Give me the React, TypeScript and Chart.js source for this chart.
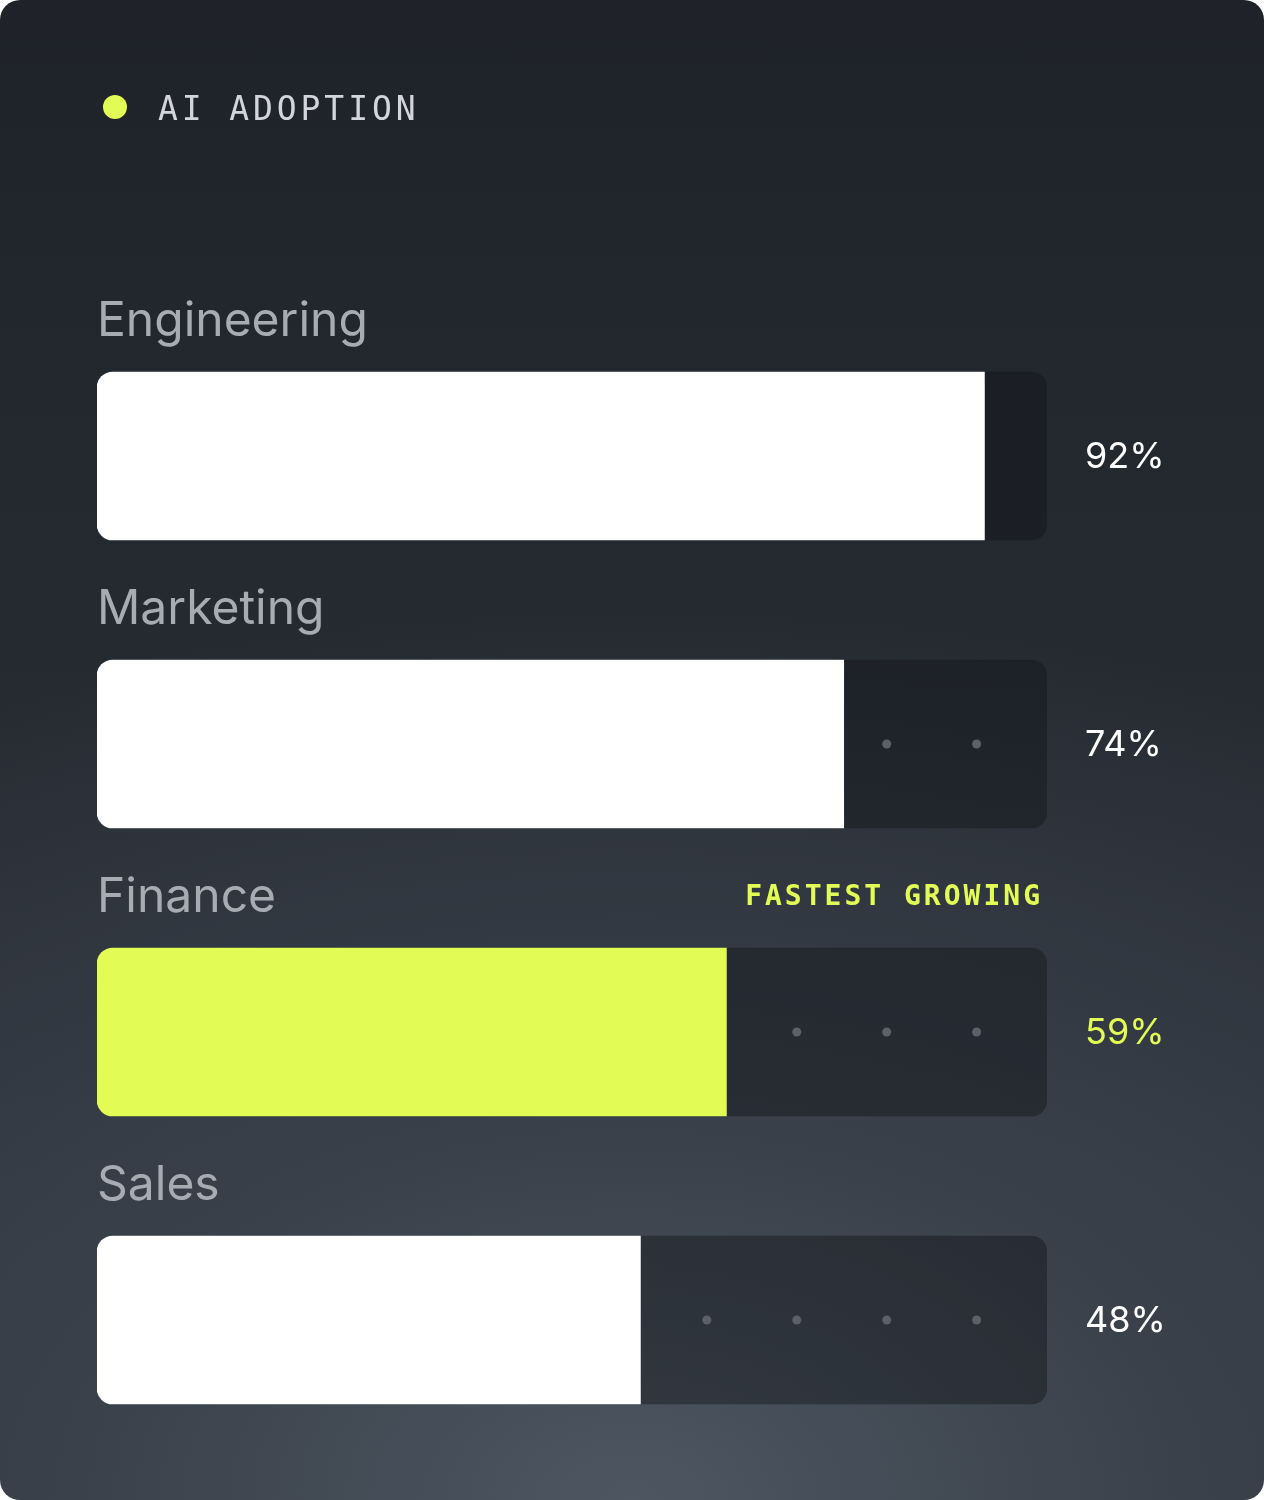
import React, { FC, useEffect, useRef } from "react";
import Chart from "chart.js/auto";

// chart data
const categories = ["Engineering", "Marketing", "Finance", "Sales"];
const adoption = [92, 74, 59, 48];
const highlightCategory = "Finance";
const highlightNote = "FASTEST GROWING";
const dotMarks = [56.5, 68, 79.5, 91]; // faint guide dots inside the empty track
const AXIS_MIN = -21.5;
const AXIS_MAX = 100;

const LIME = "#e2fc55";
const WHITE = "#ffffff";

const App: FC = () => {
  const canvasRef = useRef<HTMLCanvasElement>(null);

  useEffect(() => {
    if (!canvasRef.current) return;
    const ctx = canvasRef.current.getContext("2d");
    if (!ctx) return;

    const textPlugin = {
      id: "textPlugin",
      afterDatasetsDraw(chart: any) {
        const c = chart.ctx;
        const area = chart.chartArea;
        const meta = chart.getDatasetMeta(1);
        c.save();

        // header
        c.fillStyle = LIME;
        c.beginPath();
        c.arc(115, 107, 12, 0, Math.PI * 2);
        c.fill();
        c.fillStyle = "#d2d5da";
        c.font = "33px 'DejaVu Sans Mono', monospace";
        c.textBaseline = "alphabetic";
        c.textAlign = "left";
        (c as any).letterSpacing = "3.9px";
        c.fillText("AI ADOPTION", 158, 120);
        (c as any).letterSpacing = "0px";

        meta.data.forEach((bar: any, i: number) => {
          const top = bar.y - bar.height / 2;
          const isHi = categories[i] === highlightCategory;

          c.textAlign = "left";
          c.textBaseline = "alphabetic";
          c.fillStyle = "#a7abb2";
          c.font = "48px Inter, 'Noto Sans', sans-serif";
          c.fillText(categories[i], area.left, top - 36);

          if (isHi) {
            c.textAlign = "right";
            c.fillStyle = LIME;
            c.font = "bold 28px 'DejaVu Sans Mono', monospace";
            (c as any).letterSpacing = "3px";
            c.fillText(highlightNote, area.right - 4, top - 43);
            (c as any).letterSpacing = "0px";
          }

          c.textAlign = "left";
          c.textBaseline = "middle";
          c.fillStyle = isHi ? LIME : WHITE;
          c.font = "36px Inter, 'Noto Sans', sans-serif";
          c.fillText(adoption[i] + "%", area.right + 38, bar.y + 1);
        });
        c.restore();
      },
    };

    const dots: { x: number; y: string }[] = [];
    categories.forEach((cat, i) => {
      dotMarks.forEach((d) => {
        if (d > adoption[i]) dots.push({ x: d, y: cat });
      });
    });

    const chart = new Chart(ctx, {
      type: "bar",
      data: {
        labels: categories,
        datasets: [
          {
            // empty track
            data: categories.map(() => [AXIS_MIN, AXIS_MAX]) as any,
            backgroundColor: "rgba(17,19,23,0.42)",
            borderRadius: 16,
            borderSkipped: false,
            grouped: false,
            barThickness: 168,
            order: 3,
          },
          {
            data: adoption.map((v) => [AXIS_MIN, v]) as any,
            backgroundColor: categories.map((c) => (c === highlightCategory ? LIME : WHITE)),
            borderRadius: { topLeft: 16, bottomLeft: 16, topRight: 0, bottomRight: 0 },
            borderSkipped: false,
            grouped: false,
            barThickness: 168,
            order: 2,
          },
          {
            type: "scatter",
            data: dots as any,
            pointRadius: 4.5,
            pointHoverRadius: 4.5,
            backgroundColor: "#5c6068",
            borderWidth: 0,
            order: 1,
          } as any,
        ],
      },
      options: {
        indexAxis: "y",
        animation: false,
        responsive: true,
        maintainAspectRatio: false,
        layout: { padding: { left: 97, right: 217, top: 312, bottom: 36 } },
        plugins: {
          legend: { display: false },
          tooltip: { enabled: false },
        },
        scales: {
          x: { type: "linear", min: AXIS_MIN, max: AXIS_MAX, display: false },
          y: { type: "category", display: false },
        },
      },
      plugins: [textPlugin],
    });

    return () => {
      chart.destroy();
    };
  }, []);

  return (
    <>
      <style>{`body{margin:0;background:#fff;}`}</style>
      <div
        style={{
          position: "relative",
          width: "1264px",
          height: "1500px",
          borderRadius: "20px",
          overflow: "hidden",
          background:
            "radial-gradient(110% 60% at 50% 100%, #4d5661 0%, #3a414b 40%, rgba(40,45,52,0) 100%), linear-gradient(180deg, #1f2329 0%, #252a31 40%, #2e343c 100%)",
        }}
      >
        <canvas ref={canvasRef}></canvas>
      </div>
    </>
  );
};

export default App;
